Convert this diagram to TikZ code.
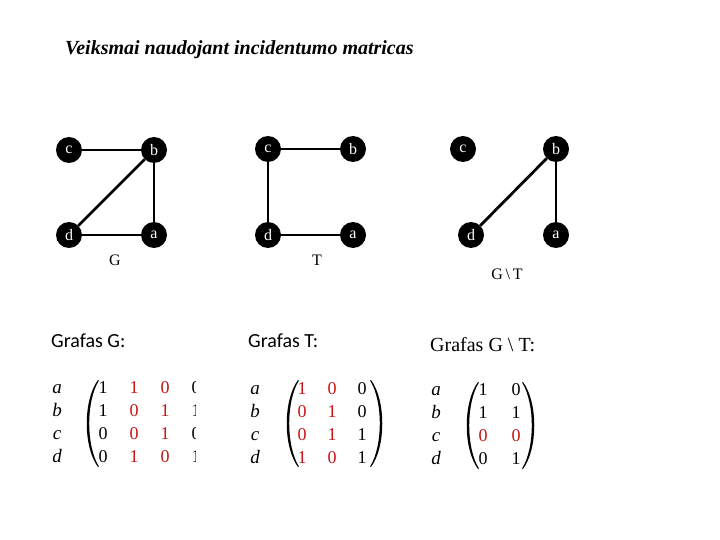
\documentclass[tikz,border=0pt]{standalone}
\usepackage{fontspec}
\setmainfont{Liberation Serif}
\newfontfamily\calib{Carlito}
\definecolor{mred}{RGB}{200,20,20}
\begin{document}
\begin{tikzpicture}[x=1pt,y=-1pt,
  vtx/.style={circle,fill=black,text=white,minimum size=26pt,inner sep=0pt,font=\fontsize{16}{16}\selectfont},
  edge/.style={line width=2.8pt},
  glabel/.style={font=\fontsize{16}{16}\selectfont,inner sep=0pt},
  ent/.style={anchor=base,inner sep=0pt,font=\fontsize{18}{18}\selectfont},
  rowlab/.style={anchor=base,inner sep=0pt,font=\fontsize{19}{19}\selectfont\itshape},
  head/.style={anchor=base west,inner sep=0pt,font=\calib\fontsize{20}{20}\selectfont},
  lpar/.pic={\fill (0,0) .. controls (-15,20) and (-15,67) .. (0,87) -- (0.9,86.5) .. controls (-12,66) and (-12,21) .. (0.9,0.5) -- cycle;},
  rpar/.pic={\fill (0,0) .. controls (15,20) and (15,67) .. (0,87) -- (-0.9,86.5) .. controls (12,66) and (12,21) .. (-0.9,0.5) -- cycle;}
]
\useasboundingbox (0,0) rectangle (720,540);
\fill[white] (0,0) rectangle (720,540);

% title
\node[anchor=base west,inner sep=0pt,font=\fontsize{20}{20}\selectfont\bfseries\itshape] (title) at (65,55) {Veiksmai naudojant incidentumo matricas};

% graph G
\node[vtx] (gc) at (69,150) {c};
\node[vtx] (gb) at (154,150) {b};
\node[vtx] (gd) at (69,235) {d};
\node[vtx] (ga) at (154,235) {a};
\draw[edge] (gc) -- (gb);
\draw[edge] (gb) -- (gd);
\draw[edge] (gb) -- (ga);
\draw[edge] (gd) -- (ga);
\node[glabel] (gl) at (115,260) {G};

% graph T
\node[vtx] (tc) at (268,149) {c};
\node[vtx] (tb) at (353,149) {b};
\node[vtx] (td) at (268,235) {d};
\node[vtx] (ta) at (353,235) {a};
\draw[edge] (tc) -- (tb);
\draw[edge] (tc) -- (td);
\draw[edge] (td) -- (ta);
\node[glabel] (tl) at (317,260) {T};

% graph G \ T
\node[vtx] (hc) at (463,149) {c};
\node[vtx] (hb) at (556,149) {b};
\node[vtx] (hd) at (471,235) {d};
\node[vtx] (ha) at (556,235) {a};
\draw[edge] (hb) -- (hd);
\draw[edge] (hb) -- (ha);
\node[glabel] (hl) at (507,274) {G\,\textbackslash\,T};

% headings
\node[head] (gh) at (51,347) {Grafas G:};
\node[head] (th) at (248,347) {Grafas T:};
\node[anchor=base west,inner sep=0pt,font=\fontsize{20}{20}\selectfont] (hh) at (430,351) {Grafas G \textbackslash{} T:};

% matrix G
\foreach \l [count=\r] in {a,b,c,d}
  \node[rowlab] (gr\r) at (57,{370+23*\r}) {\l};
\pic at (98,380) {lpar};
\begin{scope}
\clip (0,370) rectangle (195,475);
\foreach \row [count=\r] in {{1/black,1/mred,0/mred,0/black},{1/black,0/mred,1/mred,1/black},{0/black,0/mred,1/mred,0/black},{0/black,1/mred,0/mred,1/black}}
  \foreach \v/\c [count=\j] in \row
    \node[ent,text=\c] (g\r\j) at ({72+31*\j},{370+23*\r}) {\v};
\end{scope}

% matrix T
\foreach \l [count=\r] in {a,b,c,d}
  \node[rowlab] (tr\r) at (255,{371+23*\r}) {\l};
\pic at (298,380) {lpar};
\pic at (371,380) {rpar};
\foreach \row [count=\r] in {{1/mred,0/mred,0/black},{0/mred,1/mred,0/black},{0/mred,1/mred,1/black},{1/mred,0/mred,1/black}}
  \foreach \v/\c [count=\j] in \row
    \node[ent,text=\c] (t\r\j) at ({272+30*\j},{371+23*\r}) {\v};

% matrix G \ T
\foreach \l [count=\r] in {a,b,c,d}
  \node[rowlab] (hr\r) at (436,{372+23*\r}) {\l};
\pic at (478,382) {lpar};
\pic at (523,382) {rpar};
\foreach \row [count=\r] in {{1/black,0/black},{1/black,1/black},{0/mred,0/mred},{0/black,1/black}}
  \foreach \v/\c [count=\j] in \row
    \node[ent,text=\c] (h\r\j) at ({450+33*\j},{372+23*\r}) {\v};
\end{tikzpicture}
\end{document}
